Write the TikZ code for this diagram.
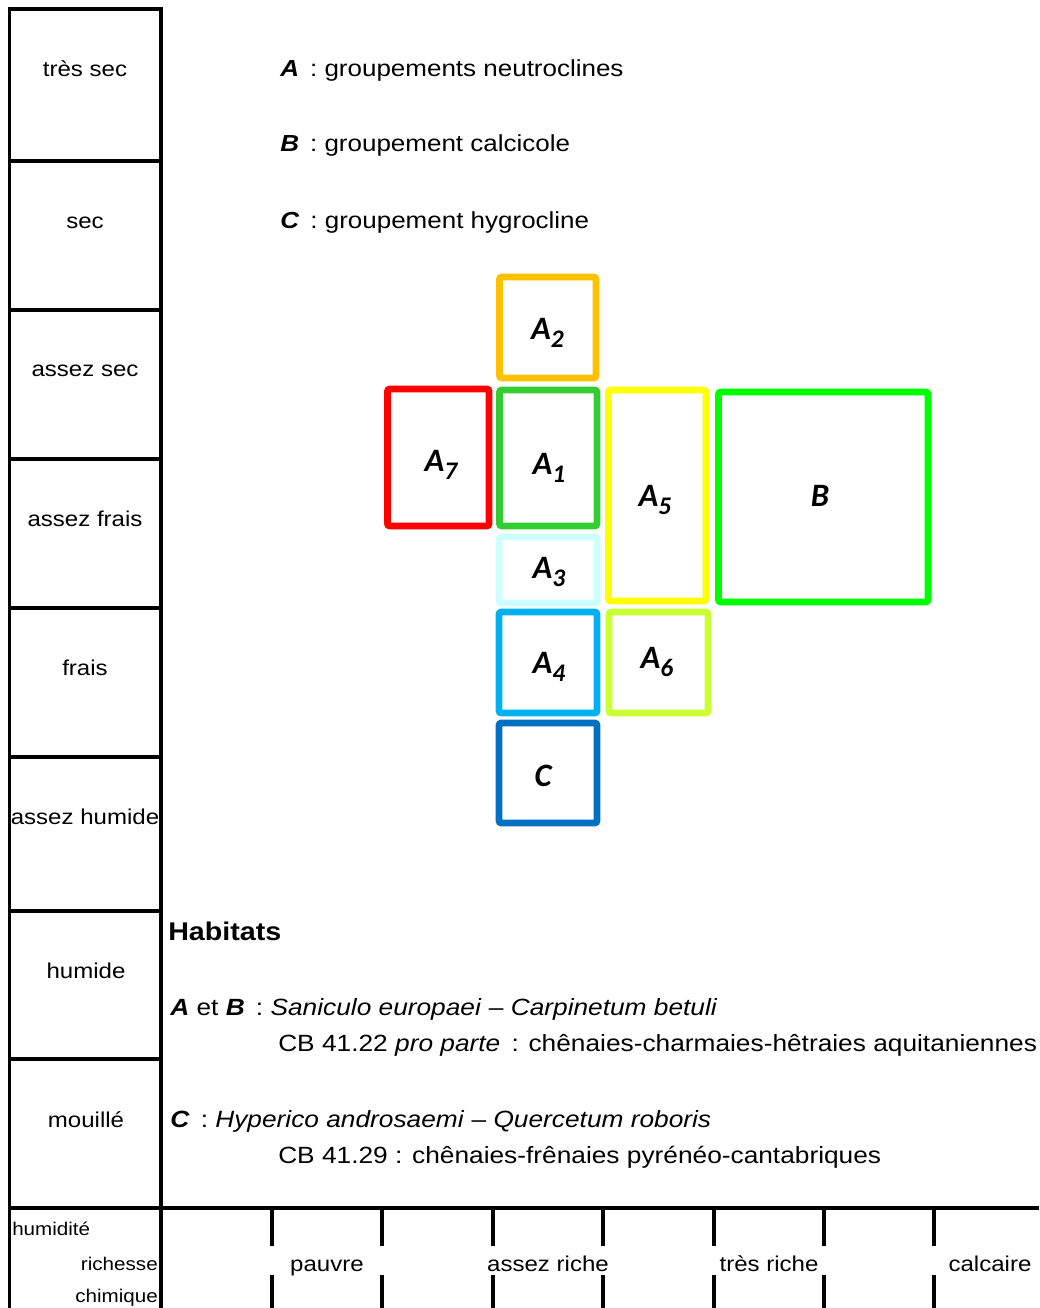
\documentclass[tikz,border=0pt]{standalone}
\usepackage{fontspec}
\setmainfont{Liberation Sans}[FakeStretch=1.12]
\newfontfamily\zonefont{Carlito}
\begin{document}
\begin{tikzpicture}[x=0.75pt,y=-0.75pt,
  frame/.style={line width=2.4pt},
  zonebox/.style={line width=4.9pt, rounded corners=1.5pt},
  rowlab/.style={anchor=base, font=\fontsize{16.1}{18}\selectfont},
  axlab/.style={inner sep=0pt, font=\fontsize{13.8}{16}\selectfont},
  leg/.style={font=\fontsize{17.4}{20}\selectfont, anchor=base west, inner sep=0pt},
  hab/.style={font=\fontsize{17.6}{20}\selectfont, anchor=base west, inner sep=0pt},
  zone/.style={font=\zonefont\bfseries\itshape\fontsize{24.5}{28}\selectfont}]
\definecolor{cA1}{HTML}{33CC33}
\definecolor{cA2}{HTML}{FFC000}
\definecolor{cA3}{HTML}{CCFFFF}
\definecolor{cA4}{HTML}{00B0F0}
\definecolor{cA5}{HTML}{FFFF00}
\definecolor{cA6}{HTML}{CCFF33}
\definecolor{cA7}{HTML}{FF0000}
\definecolor{cB}{HTML}{00FF00}
\definecolor{cC}{HTML}{0070C0}
\newcommand\zlab[2]{#1\raisebox{-6pt}{\fontsize{19}{20}\selectfont #2}}
\useasboundingbox (0,0) rectangle (1039,1308);

% humidity column
\draw[frame] (9.5,1308) -- (9.5,9) -- (161,9) -- (161,1308);
\foreach \yy in {161,310,459,608,757,911,1059}
  \draw[frame] (9.5,\yy) -- (161,\yy);
\draw[frame] (9.5,1208) -- (1039,1208);

\node[rowlab] (h1) at (85,77) {très sec};
\node[rowlab] (h2) at (85,229) {sec};
\node[rowlab] (h3) at (85,377) {assez sec};
\node[rowlab] (h4) at (85,526) {assez frais};
\node[rowlab] (h5) at (85,675) {frais};
\node[rowlab] (h6) at (85,824) {assez humide};
\node[rowlab] (h7) at (86,978) {humide};
\node[rowlab] (h8) at (86,1127) {mouillé};

% chemical richness axis
\foreach \xx in {272,382,493,603,714,824,934} {
  \draw[frame] (\xx,1209) -- (\xx,1246);
  \draw[frame] (\xx,1275) -- (\xx,1308);
}
\node[axlab, anchor=base west] (hum) at (12,1235) {humidité};
\node[axlab, anchor=base east] (ric) at (158,1270) {richesse};
\node[axlab, anchor=base east] (chi) at (158,1302) {chimique};
\node[rowlab] (r1) at (327,1271) {pauvre};
\node[rowlab] (r2) at (548,1271) {assez riche};
\node[rowlab] (r3) at (769,1271) {très riche};
\node[rowlab] (r4) at (990,1271) {calcaire};

% legend
\node[leg] (lA) at (280,77) {\textbf{\textit{A}}\,\ : groupements neutroclines};
\node[leg] (lB) at (280,152) {\textbf{\textit{B}}\,\ : groupement calcicole};
\node[leg] (lC) at (280,229) {\textbf{\textit{C}}\,\ : groupement hygrocline};

% vegetation groups
\draw[zonebox, cA2] (499.5,277) rectangle (596,378);
\draw[zonebox, cA7] (387.5,389) rectangle (489,526);
\draw[zonebox, cA1] (499.5,390) rectangle (597,526);
\draw[zonebox, cA5] (608.5,390) rectangle (706,601);
\draw[zonebox, cB]  (718.5,392) rectangle (928,602);
\draw[zonebox, cA3] (499,537) rectangle (597,603);
\draw[zonebox, cA4] (499,612) rectangle (597,713);
\draw[zonebox, cA6] (609,612) rectangle (708,713);
\draw[zonebox, cC]  (499,723) rectangle (597,823);

\node[zone] (A2) at (547.5,332.5) {\zlab{A}{2}};
\node[zone] (A7) at (441,465) {\zlab{A}{7}};
\node[zone] (A1) at (549,468) {\zlab{A}{1}};
\node[zone] (A5) at (655,500) {\zlab{A}{5}};
\node[zone] (B)  at (820,496) {B};
\node[zone] (A3) at (549,572) {\zlab{A}{3}};
\node[zone] (A4) at (549,667) {\zlab{A}{4}};
\node[zone] (A6) at (657,662) {\zlab{A}{6}};
\node[zone] (C)  at (543,776) {C};

% habitats
\node[hab, font=\bfseries\fontsize{19.2}{22}\selectfont] (habt) at (168,940) {Habitats};
\node[hab] (hAB) at (170,1015) {\textbf{\textit{A}} et \textbf{\textit{B}}\, : \textit{Saniculo europaei} -- \textit{Carpinetum betuli}};
\node[hab] (hAB2) at (278,1051) {CB 41.22 \textit{pro parte}\, : chênaies-charmaies-hêtraies aquitaniennes};
\node[hab] (hC) at (170,1127) {\textbf{\textit{C}}\, : \textit{Hyperico androsaemi} -- \textit{Quercetum roboris}};
\node[hab] (hC2) at (278,1163) {CB 41.29 : chênaies-frênaies pyrénéo-cantabriques};
\end{tikzpicture}
\end{document}
